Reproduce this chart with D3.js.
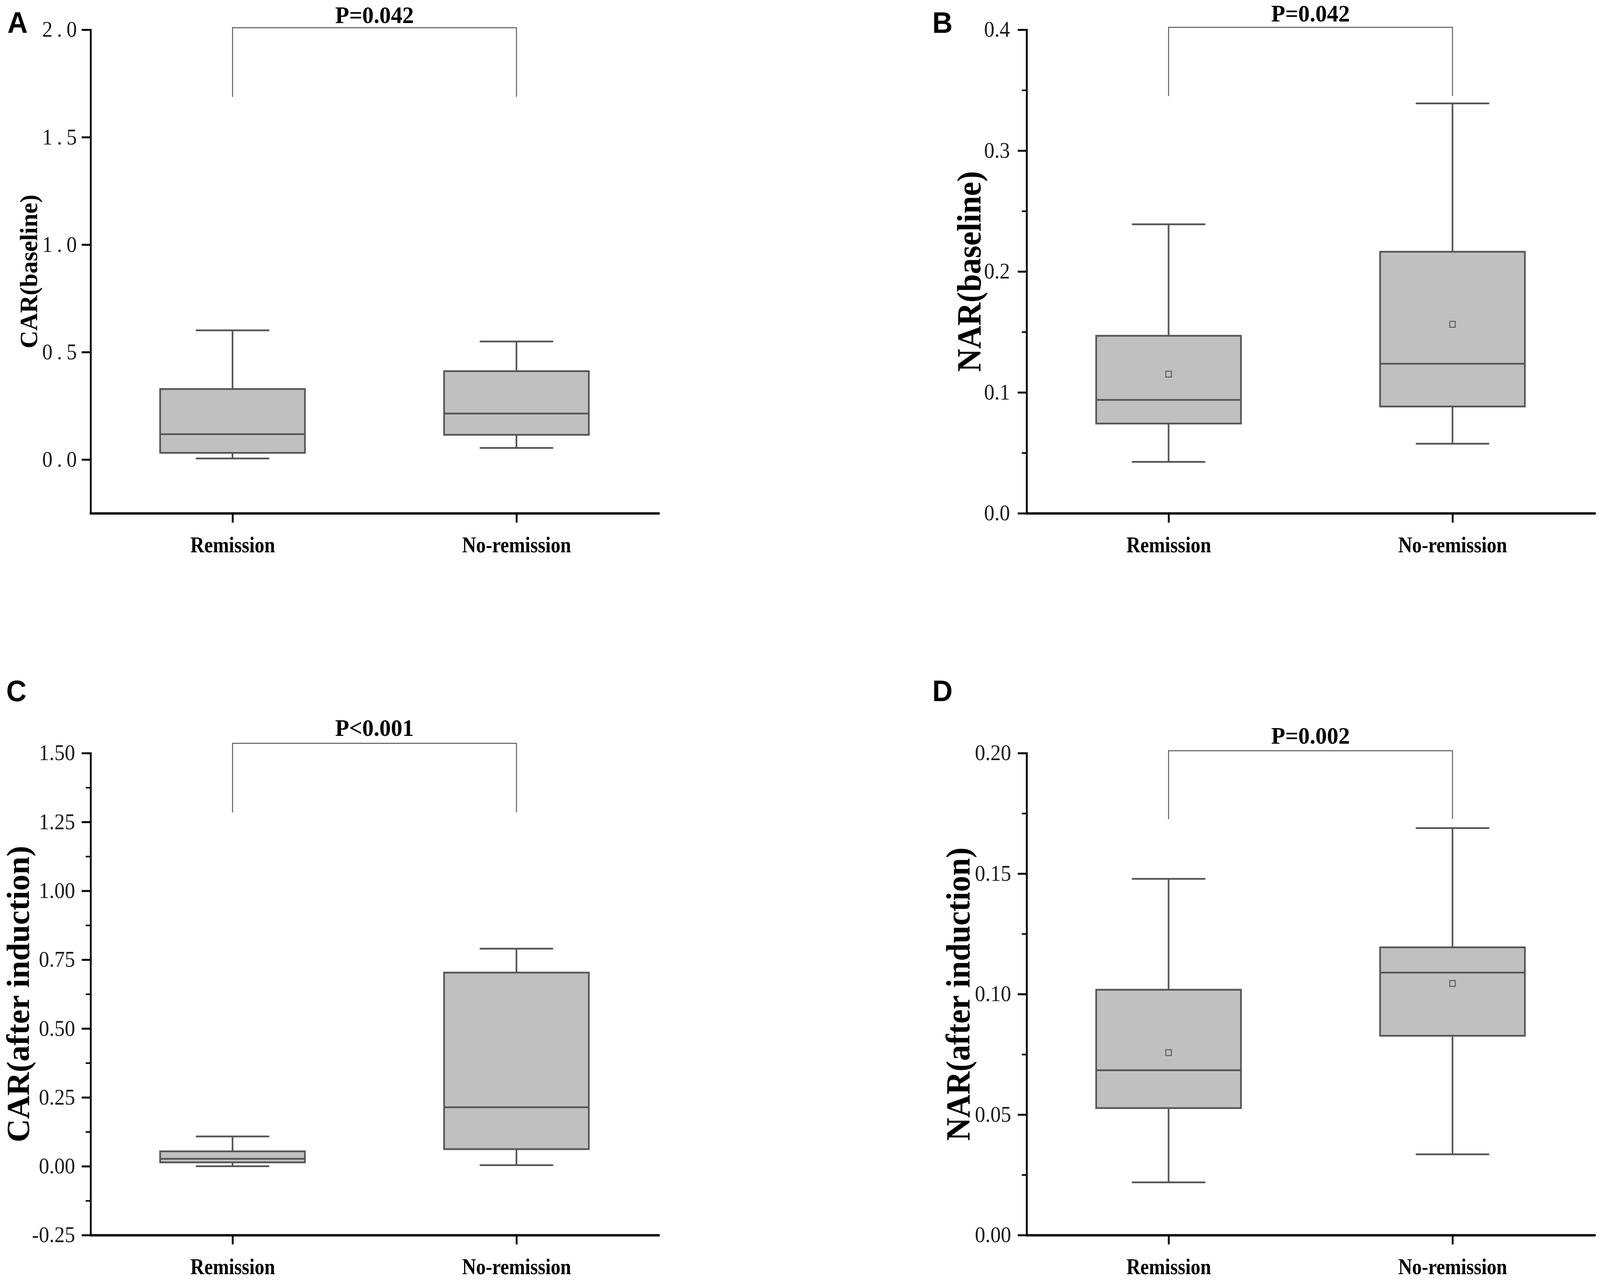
<!DOCTYPE html>
<html><head><meta charset="utf-8">
<script src="https://cdn.jsdelivr.net/npm/d3@7"></script>
<style>html,body{margin:0;padding:0;background:#fff;overflow:hidden}#chart{display:block;width:100vw;height:100vh}</style>
</head><body>
<svg id="chart" viewBox="0 0 4328 3277" preserveAspectRatio="none" xmlns="http://www.w3.org/2000/svg"></svg>
<script>
// ---------- data ----------
const categories = ["Remission", "No-remission"];
const panelLetters = ["A", "B", "C", "D"];
const yTitles = ["CAR(baseline)", "NAR(baseline)", "CAR(after induction)", "NAR(after induction)"];
const pLabels = ["P=0.042", "P=0.042", "P<0.001", "P=0.002"];
const yDomains = [[-0.25, 2.0], [0, 0.4], [-0.25, 1.5], [0, 0.2]];
const yMajorTicks = [
  [0, 0.5, 1.0, 1.5, 2.0],
  [0, 0.1, 0.2, 0.3, 0.4],
  [-0.25, 0, 0.25, 0.5, 0.75, 1.0, 1.25, 1.5],
  [0, 0.05, 0.10, 0.15, 0.20]
];
const yMinorTicks = [
  [],
  [0.05, 0.15, 0.25, 0.35],
  [-0.125, 0.125, 0.375, 0.625, 0.875, 1.125, 1.375],
  [0.025, 0.075, 0.125, 0.175]
];
const tickFormats = [".1f", ".1f", ".2f", ".2f"];
// box summaries: [min, Q1, median, Q3, max]
const carBaselineRemission   = [0.005, 0.031, 0.118, 0.328, 0.601];
const carBaselineNoRemission = [0.054, 0.115, 0.214, 0.411, 0.549];
const narBaselineRemission   = [0.0425, 0.0742, 0.0938, 0.1468, 0.239];
const narBaselineNoRemission = [0.0575, 0.0883, 0.1237, 0.2163, 0.339];
const carAfterRemission      = [0.0, 0.014, 0.027, 0.054, 0.108];
const carAfterNoRemission    = [0.004, 0.062, 0.214, 0.703, 0.790];
const narAfterRemission      = [0.0219, 0.0527, 0.0684, 0.1018, 0.1478];
const narAfterNoRemission    = [0.0335, 0.0827, 0.1089, 0.1194, 0.1689];
const carBaselineMeans = null;
const narBaselineMeans = [0.1151, 0.1563];
const carAfterMeans = null;
const narAfterMeans = [0.0757, 0.1044];

const panelBoxes = [
  [carBaselineRemission, carBaselineNoRemission],
  [narBaselineRemission, narBaselineNoRemission],
  [carAfterRemission, carAfterNoRemission],
  [narAfterRemission, narAfterNoRemission]
];
const panelMeans = [carBaselineMeans, narBaselineMeans, carAfterMeans, narAfterMeans];

// ---------- layout ----------
const W = 1536;
const layout = [
  {left: 245,  top: 76,   bottom: 1314, letterX: 20,   letterY: 84,   titleX: 100,  titleSize: 66, titleScale: 0.95, tickPad: 1,  tickLS: 12, pBase: 59,   brTop: 71,   brBot: 248},
  {left: 2777, top: 76,   bottom: 1314, letterX: 2522, letterY: 84,   titleX: 2652, titleSize: 92, titleScale: 0.89, tickPad: 21, tickLS: 0,  pBase: 55,   brTop: 70,   brBot: 246},
  {left: 245,  top: 1928, bottom: 3162, letterX: 17,   letterY: 1795, titleX: 78,   titleSize: 88, titleScale: 0.94, tickPad: 18, tickLS: 0,  pBase: 1884, brTop: 1903, brBot: 2080},
  {left: 2777, top: 1928, bottom: 3162, letterX: 2522, letterY: 1795, titleX: 2623, titleSize: 92, titleScale: 0.89, tickPad: 18, tickLS: 0,  pBase: 1904, brTop: 1922, brBot: 2097}
];

const SERIF = "'Liberation Serif','Times New Roman',serif";
const SANS = "'Liberation Sans',Arial,sans-serif";
const BOX_STROKE = "#555555";
const BOX_FILL = "#c0c0c0";
const locale = d3.formatLocale({decimal: ".", thousands: ",", grouping: [3], currency: ["", ""], minus: "-"});

const svg = d3.select("#chart");
svg.append("rect").attr("width", 4328).attr("height", 3277).attr("fill", "#fff");

layout.forEach((L, p) => {
  const g = svg.append("g");
  const x = d3.scalePoint().domain(categories).range([L.left, L.left + W]).padding(0.5);
  const y = d3.scaleLinear().domain(yDomains[p]).range([L.bottom, L.top]);
  const step = x.step();
  const boxHalf = step * 0.255;
  const capHalf = step * 0.127;

  // panel letter
  g.append("text").attr("x", L.letterX).attr("y", L.letterY)
    .attr("font-family", SANS).attr("font-weight", "bold").attr("font-size", 76)
    .attr("fill", "#000").text(panelLetters[p]);

  // boxes
  const boxes = g.append("g");
  categories.forEach((c, i) => {
    const d = panelBoxes[p][i];
    const cx = x(c);
    const bg = boxes.append("g").attr("stroke", BOX_STROKE).attr("stroke-width", 4.5);
    bg.append("line").attr("x1", cx).attr("x2", cx).attr("y1", y(d[0])).attr("y2", y(d[1]));
    bg.append("line").attr("x1", cx).attr("x2", cx).attr("y1", y(d[3])).attr("y2", y(d[4]));
    bg.append("line").attr("x1", cx - capHalf).attr("x2", cx + capHalf).attr("y1", y(d[0])).attr("y2", y(d[0])).attr("stroke-linecap", "round");
    bg.append("line").attr("x1", cx - capHalf).attr("x2", cx + capHalf).attr("y1", y(d[4])).attr("y2", y(d[4])).attr("stroke-linecap", "round");
    bg.append("rect").attr("x", cx - boxHalf).attr("width", 2 * boxHalf)
      .attr("y", y(d[3])).attr("height", y(d[1]) - y(d[3]))
      .attr("fill", BOX_FILL);
    bg.append("line").attr("x1", cx - boxHalf).attr("x2", cx + boxHalf).attr("y1", y(d[2])).attr("y2", y(d[2]));
    if (panelMeans[p]) {
      const m = panelMeans[p][i];
      boxes.append("rect").attr("x", cx - 7.5).attr("y", y(m) - 7.5).attr("width", 15).attr("height", 15)
        .attr("fill", "none").attr("stroke", "#5a5a5a").attr("stroke-width", 2.5);
    }
  });

  // y axis (minor ticks)
  if (yMinorTicks[p].length) {
    const ym = g.append("g").attr("transform", `translate(${L.left},0)`)
      .call(d3.axisLeft(y).tickValues(yMinorTicks[p]).tickSize(13).tickSizeOuter(0).tickFormat(""));
    ym.select(".domain").remove();
    ym.selectAll(".tick line").attr("stroke", "#000").attr("stroke-width", 4);
  }
  // y axis (major)
  const ya = g.append("g").attr("transform", `translate(${L.left},0)`)
    .call(d3.axisLeft(y).tickValues(yMajorTicks[p]).tickSize(24).tickSizeOuter(0)
      .tickPadding(L.tickPad).tickFormat(locale.format(tickFormats[p])));
  ya.select(".domain").attr("stroke", "#000").attr("stroke-width", 5).attr("stroke-linecap", "square");
  ya.selectAll(".tick line").attr("stroke", "#000").attr("stroke-width", 5);
  ya.selectAll(".tick text").attr("font-family", SERIF).attr("font-size", 56)
    .attr("fill", "#1a1a1a").attr("letter-spacing", L.tickLS);

  // x axis
  const xa = g.append("g").attr("transform", `translate(0,${L.bottom})`)
    .call(d3.axisBottom(x).tickSize(24).tickSizeOuter(0).tickPadding(35));
  xa.select(".domain").attr("stroke", "#000").attr("stroke-width", 6).attr("stroke-linecap", "square");
  xa.selectAll(".tick line").attr("stroke", "#000").attr("stroke-width", 5);
  xa.selectAll(".tick text").attr("font-family", SERIF).attr("font-weight", "bold")
    .attr("font-size", 58).attr("fill", "#000").attr("transform", "scale(0.9,1)");

  // y title
  g.append("g").attr("transform", `translate(${L.titleX},${(L.top + L.bottom) / 2}) rotate(-90) scale(${L.titleScale},1)`)
    .append("text").attr("text-anchor", "middle")
    .attr("font-family", SERIF).attr("font-weight", "bold").attr("font-size", L.titleSize)
    .attr("fill", "#000").text(yTitles[p]);

  // significance bracket
  const x1 = x(categories[0]), x2 = x(categories[1]);
  g.append("path")
    .attr("d", `M${x1},${L.brBot}V${L.brTop}H${x2}V${L.brBot}`)
    .attr("fill", "none").attr("stroke", "#555").attr("stroke-width", 2.5);
  g.append("text").attr("x", (x1 + x2) / 2).attr("y", L.pBase).attr("text-anchor", "middle")
    .attr("font-family", SERIF).attr("font-weight", "bold").attr("font-size", 62)
    .attr("fill", "#000").text(pLabels[p]);
});
</script>
</body></html>
